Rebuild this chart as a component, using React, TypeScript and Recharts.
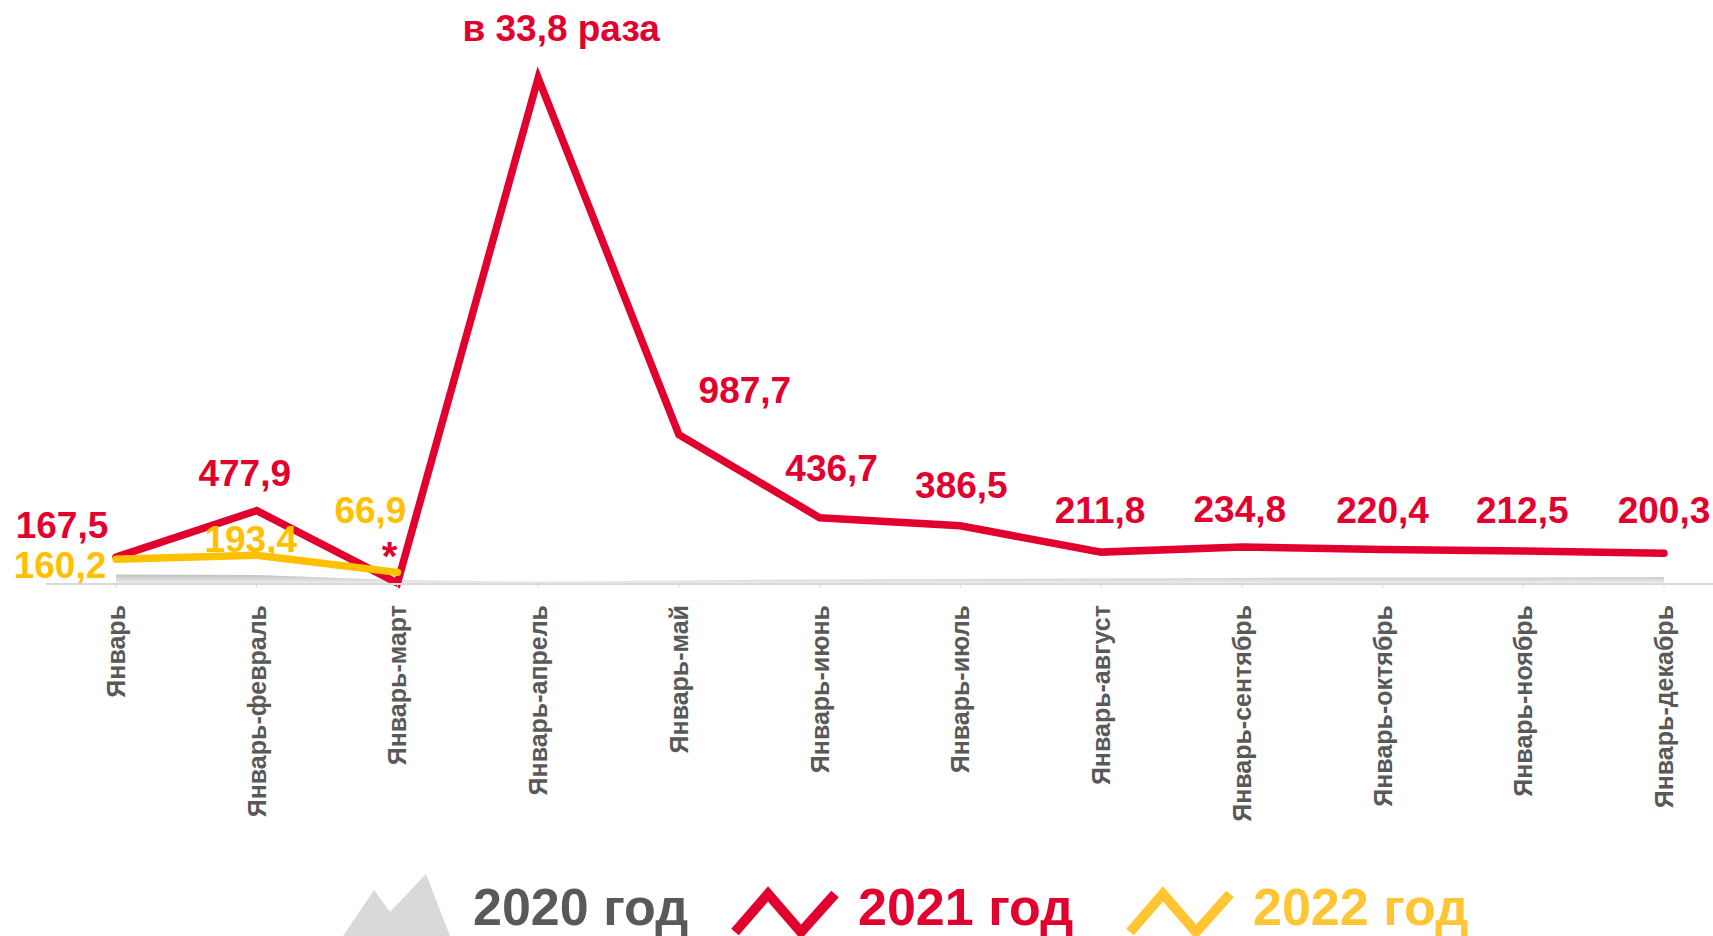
import React from 'react';
import { ComposedChart, Area, Line, XAxis, YAxis, LabelList } from 'recharts';

const months = [
  'Январь',
  'Январь-февраль',
  'Январь-март',
  'Январь-апрель',
  'Январь-май',
  'Январь-июнь',
  'Январь-июль',
  'Январь-август',
  'Январь-сентябрь',
  'Январь-октябрь',
  'Январь-ноябрь',
  'Январь-декабрь',
];

// plotted levels (peak = 100)
const values2020 = [1.9, 1.8, 0.8, 0.5, 0.7, 0.9, 1.0, 1.1, 1.2, 1.3, 1.3, 1.4];
const values2021 = [5.3, 14.5, 0.2, 100, 29.5, 13.1, 11.5, 6.3, 7.3, 6.8, 6.5, 6.1];
const values2022 = [4.9, 5.7, 2.3, null, null, null, null, null, null, null, null, null];

const labels2021 = ['167,5', '477,9', '*', 'в 33,8 раза', '987,7', '436,7', '386,5', '211,8', '234,8', '220,4', '212,5', '200,3'];
const labels2022 = ['160,2', '193,4', '66,9'];

const RED = '#E2002E';
const YELLOW = '#FFC000';
const GREY_TEXT = '#595959';

// label placement relative to its point
const redShift: [number, number][] = [
  [-54, -32], [-12, -37], [-8, -27], [23, -50], [66, -44], [12, -49],
  [1, -40], [-1, -42], [-2, -38], [0, -39], [-1, -41], [0, -43],
];
const yellowShift: [number, number][] = [[-56, 6], [-6, -16], [-27, -62]];

const data = months.map((month, i) => ({
  month,
  y2020: values2020[i],
  y2021: values2021[i],
  y2022: values2022[i],
}));

const MonthTick = (props: any) => {
  const { x, y, payload } = props;
  return (
    <text
      x={x}
      y={y + 15}
      dy="0.36em"
      transform={`rotate(-90, ${x}, ${y + 15})`}
      textAnchor="end"
      fill={GREY_TEXT}
      fontSize={25}
      fontWeight="bold"
      fontFamily="Liberation Sans, Arial, sans-serif"
    >
      {payload.value}
    </text>
  );
};

const redLabel = (props: any) => {
  const { x, y, index } = props;
  const text = labels2021[index];
  if (!text) return null;
  const [dx, dy] = redShift[index];
  return (
    <text
      x={x + dx}
      y={y + dy}
      textAnchor="middle"
      dominantBaseline="central"
      fill={RED}
      fontSize={index === 2 ? 40 : 37}
      fontWeight="bold"
      fontFamily="Liberation Sans, Arial, sans-serif"
    >
      {text}
    </text>
  );
};

const yellowLabel = (props: any) => {
  const { x, y, index } = props;
  const text = labels2022[index];
  if (!text || x == null || y == null) return null;
  const [dx, dy] = yellowShift[index];
  return (
    <text
      x={x + dx}
      y={y + dy}
      textAnchor="middle"
      dominantBaseline="central"
      fill={YELLOW}
      fontSize={37}
      fontWeight="bold"
      fontFamily="Liberation Sans, Arial, sans-serif"
    >
      {text}
    </text>
  );
};

const legendText: React.CSSProperties = {
  position: 'absolute',
  top: 881,
  fontSize: 52,
  lineHeight: 1,
  fontWeight: 'bold',
  fontFamily: 'Liberation Sans, Arial, sans-serif',
  whiteSpace: 'nowrap',
};

const App = () => {
  return (
    <div style={{ position: 'absolute', left: 0, top: 0, width: 1713, height: 936, overflow: 'hidden', background: '#fff' }}>
      <ComposedChart width={1713} height={936} data={data} margin={{ top: 78, right: 0, bottom: 92, left: 46 }}>
        <defs>
          <linearGradient id="grey2020" x1="0" y1="0" x2="0" y2="1">
            <stop offset="0%" stopColor="#bfbfbf" />
            <stop offset="100%" stopColor="#f2f2f2" />
          </linearGradient>
        </defs>
        <XAxis
          dataKey="month"
          scale="point"
          padding={{ left: 70, right: 49 }}
          interval={0}
          height={260}
          axisLine={{ stroke: '#d9d9d9', strokeWidth: 2 }}
          tickLine={{ stroke: '#d9d9d9' }}
          tickSize={4}
          tick={<MonthTick />}
        />
        <YAxis hide type="number" domain={[0, 100]} />
        <Area
          dataKey="y2020"
          type="linear"
          stroke="none"
          fill="url(#grey2020)"
          fillOpacity={1}
          isAnimationActive={false}
        />
        <Line
          dataKey="y2021"
          type="linear"
          stroke={RED}
          strokeWidth={7.5}
          strokeLinecap="round"
          dot={false}
          isAnimationActive={false}
        >
          <LabelList dataKey="y2021" content={redLabel} />
        </Line>
        <Line
          dataKey="y2022"
          type="linear"
          stroke={YELLOW}
          strokeWidth={7.5}
          strokeLinecap="round"
          dot={false}
          connectNulls={false}
          isAnimationActive={false}
        >
          <LabelList dataKey="y2022" content={yellowLabel} />
        </Line>
      </ComposedChart>

      <svg style={{ position: 'absolute', left: 0, top: 860 }} width={1713} height={76}>
        <polygon points="343,76 374,30 390,52 426,14 450,76" fill="#d9d9d9" />
        <polyline points="735,72 768,34 801,72 835,34" fill="none" stroke={RED} strokeWidth={10} />
        <polyline points="1130,72 1163,34 1196,72 1230,34" fill="none" stroke="#FFC532" strokeWidth={10} />
      </svg>
      <div style={{ ...legendText, left: 473, color: GREY_TEXT }}>2020 год</div>
      <div style={{ ...legendText, left: 858, color: RED }}>2021 год</div>
      <div style={{ ...legendText, left: 1253, color: '#FFC532' }}>2022 год</div>
    </div>
  );
};

export default App;
